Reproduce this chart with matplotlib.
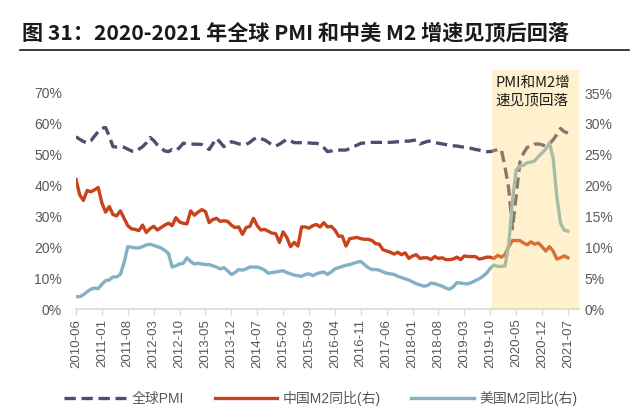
import matplotlib.pyplot as plt
from matplotlib.lines import Line2D
from matplotlib.patches import Rectangle
import matplotlib.transforms as mtransforms

plt.rcParams['font.family'] = ['Liberation Sans', 'Noto Sans CJK SC', 'DejaVu Sans']

# monthly, 2010-06 .. 2021-07
tick_labels = ['2010-06', '2011-01', '2011-08', '2012-03', '2012-10', '2013-05',
               '2013-12', '2014-07', '2015-02', '2015-09', '2016-04', '2016-11',
               '2017-06', '2018-01', '2018-08', '2019-03', '2019-10', '2020-05',
               '2020-12', '2021-07']

# global PMI (left axis, %)
pmi = [55.8, 55.0, 54.3, 53.8, 54.5, 56.0, 57.5, 58.6, 58.8, 56.0,
       52.6, 52.5, 52.6, 52.4, 51.8, 51.2, 51.0, 51.8, 52.6, 53.8,
       55.6, 54.6, 53.2, 52.2, 51.2, 51.0, 51.7, 51.3, 52.3, 53.7,
       53.6, 53.5, 53.4, 53.4, 53.3, 52.5, 51.7, 53.5, 55.3, 54.0,
       52.6, 53.5, 54.2, 53.9, 53.5, 53.4, 53.3, 54.0, 55.0, 55.6,
       55.2, 54.8, 54.0, 53.2, 52.8, 53.4, 54.2, 55.0, 54.5, 53.9,
       53.9, 53.9, 53.9, 53.8, 53.7, 53.7, 53.3, 52.3, 51.0, 51.2,
       51.5, 51.5, 51.5, 51.5, 52.0, 52.6, 53.1, 53.7, 53.8, 53.9,
       54.0, 54.0, 54.0, 54.0, 54.0, 54.0, 54.1, 54.2, 54.3, 54.4,
       54.4, 54.6, 54.8, 53.5, 53.9, 54.3, 54.5, 54.0, 53.7, 53.5,
       53.3, 53.1, 52.9, 52.8, 52.6, 52.4, 52.2, 52.0, 51.7, 51.5,
       51.2, 51.0, 51.0, 51.3, 51.7, 51.7, 46.0, 39.0, 26.0, 36.5,
       47.5, 50.5, 52.4, 52.5, 53.4, 53.5, 53.2, 52.8, 53.5, 54.8,
       56.5, 58.5, 57.5, 57.0]

# China M2 yoy (right axis, %)
cn_m2 = [21.0, 18.5, 17.6, 19.2, 19.0, 19.3, 19.7, 17.2, 15.7, 16.6,
         15.3, 15.1, 15.9, 14.7, 13.5, 13.0, 12.9, 12.7, 13.6, 12.4,
         13.0, 13.4, 12.8, 13.2, 13.6, 13.9, 13.5, 14.8, 14.1, 13.9,
         13.8, 15.9, 15.2, 15.7, 16.1, 15.8, 14.0, 14.5, 14.7, 14.2,
         14.3, 14.2, 13.6, 13.2, 13.3, 12.1, 13.2, 13.4, 14.7, 13.5,
         12.8, 12.9, 12.6, 12.3, 12.2, 10.8, 12.5, 11.6, 10.1, 10.8,
         10.2, 13.3, 13.3, 13.1, 13.5, 13.7, 13.3, 14.0, 13.3, 13.4,
         12.8, 11.8, 11.8, 10.2, 11.4, 11.5, 11.6, 11.4, 11.3, 11.3,
         11.1, 10.6, 10.5, 9.6, 9.4, 9.2, 8.9, 9.2, 8.8, 9.1,
         8.2, 8.6, 8.8, 8.2, 8.3, 8.3, 8.0, 8.5, 8.2, 8.3,
         8.0, 8.0, 8.1, 8.4, 8.0, 8.6, 8.5, 8.5, 8.5, 8.1,
         8.2, 8.4, 8.4, 8.2, 8.7, 8.4, 8.8, 10.1, 11.1, 11.1,
         11.1, 10.7, 10.4, 10.9, 10.5, 10.7, 10.1, 9.4, 10.1, 9.4,
         8.1, 8.3, 8.6, 8.3]

# US M2 yoy (right axis, %)
us_m2 = [2.0, 2.0, 2.3, 2.8, 3.2, 3.4, 3.3, 4.0, 4.6, 4.7,
         5.2, 5.2, 5.6, 7.5, 10.1, 10.0, 9.9, 9.9, 10.1, 10.4,
         10.5, 10.3, 10.1, 9.9, 9.5, 9.0, 6.8, 7.0, 7.3, 7.4,
         8.3, 7.7, 7.3, 7.4, 7.3, 7.2, 7.2, 7.0, 6.8, 6.5,
         6.7, 6.2, 5.6, 5.9, 6.4, 6.3, 6.5, 6.8, 6.8, 6.8,
         6.6, 6.3, 5.8, 5.9, 6.0, 6.1, 6.2, 5.9, 5.7, 5.5,
         5.4, 5.3, 5.6, 5.7, 5.4, 5.7, 5.9, 6.0, 5.6, 6.0,
         6.5, 6.7, 6.9, 7.1, 7.2, 7.4, 7.6, 7.7, 7.2, 6.7,
         6.4, 6.4, 6.3, 6.0, 5.8, 5.7, 5.6, 5.3, 5.1, 4.9,
         4.7, 4.4, 4.1, 3.9, 3.7, 3.8, 4.2, 4.1, 3.9, 3.7,
         3.4, 3.2, 3.6, 4.3, 4.2, 4.1, 4.1, 4.3, 4.6, 4.9,
         5.3, 5.8, 6.6, 7.1, 6.9, 6.9, 7.0, 10.5, 17.5, 22.5,
         23.2, 23.3, 23.7, 23.8, 24.0, 24.7, 25.3, 25.9, 26.9, 24.5,
         18.2, 13.9, 12.8, 12.6]

months = list(range(len(pmi)))
tick_pos = [7 * i for i in range(len(tick_labels))]

c_pmi = '#504E70'
c_cn = '#C8421C'
c_us = '#82B0C4'
grey = '#595959'

fig = plt.figure(figsize=(6.41, 4.19), dpi=100)
ax = fig.add_axes([76 / 641, 1 - 309 / 419, 503 / 641, 239 / 419])
ax2 = ax.twinx()

ax.plot(months, pmi, color=c_pmi, lw=2.4, dashes=(3.4, 1.7), solid_capstyle='butt')
ax2.plot(months, cn_m2, color=c_cn, lw=2.4)
ax2.plot(months, us_m2, color=c_us, lw=2.4)

ax.set_xlim(0, 136)
ax.set_ylim(0, 239 / 3.086)
ax2.set_ylim(0, 239 / 6.17)
ax.set_yticks(range(0, 71, 10))
ax.set_yticklabels([f'{v}%' for v in range(0, 71, 10)])
ax2.set_yticks(range(0, 36, 5))
ax2.set_yticklabels([f'{v}%' for v in range(0, 36, 5)])
ax.set_xticks(tick_pos)
ax.set_xticklabels(tick_labels, rotation=90)

for a in (ax, ax2):
    for s in a.spines.values():
        s.set_visible(False)
ax.spines['bottom'].set_visible(True)
ax.spines['bottom'].set_color('#D9D9D9')
ax.spines['bottom'].set_linewidth(1.2)
ax.tick_params(axis='x', length=4, color='#D9D9D9', width=1, labelsize=9.5,
               labelcolor=grey, pad=3)
ax.tick_params(axis='y', length=0, labelsize=10, labelcolor=grey, pad=10)
ax2.tick_params(axis='y', length=0, labelsize=10, labelcolor=grey, pad=4)

# shaded period, drawn on top like the original overlay
trans = mtransforms.blended_transform_factory(ax2.transData, ax2.transAxes)
ax2.add_patch(Rectangle((112.5, 0), 136 - 112.5, 1.0, transform=trans,
                        facecolor='#FFD466', alpha=0.32, edgecolor='none',
                        zorder=10, clip_on=False))
ax2.text(113.3, 0.975, 'PMI和M2增\n速见顶回落', transform=trans, ha='left', va='top',
         fontsize=10.5, color='#1A1A1A', linespacing=1.35, zorder=11,
         family=['Noto Sans CJK SC'])

# title and rule
fig.text(22 / 641, 1 - 33 / 419, '图 31：2020-2021 年全球 PMI 和中美 M2 增速见顶后回落',
         fontsize=15.2, fontweight='bold', color='#1A1A1A', va='center', ha='left',
         family=['Noto Sans CJK SC'])
fig.add_artist(Line2D([20 / 641, 629 / 641], [1 - 50 / 419, 1 - 50 / 419],
                      color='#1A1A1A', lw=1.2))

handles = [Line2D([], [], color=c_pmi, lw=2.4, dashes=(3.4, 1.7)),
           Line2D([], [], color=c_cn, lw=2.4),
           Line2D([], [], color=c_us, lw=2.4)]
labels = ['全球PMI', '中国M2同比(右)', '美国M2同比(右)']
leg = fig.legend(handles, labels, loc='center', bbox_to_anchor=(0.5, 1 - 398 / 419),
                 ncol=3, frameon=False, fontsize=10, handlelength=4.5,
                 columnspacing=2.2, handletextpad=0.4)
for t in leg.get_texts():
    t.set_color(grey)

fig.savefig('out.png', dpi=100)
